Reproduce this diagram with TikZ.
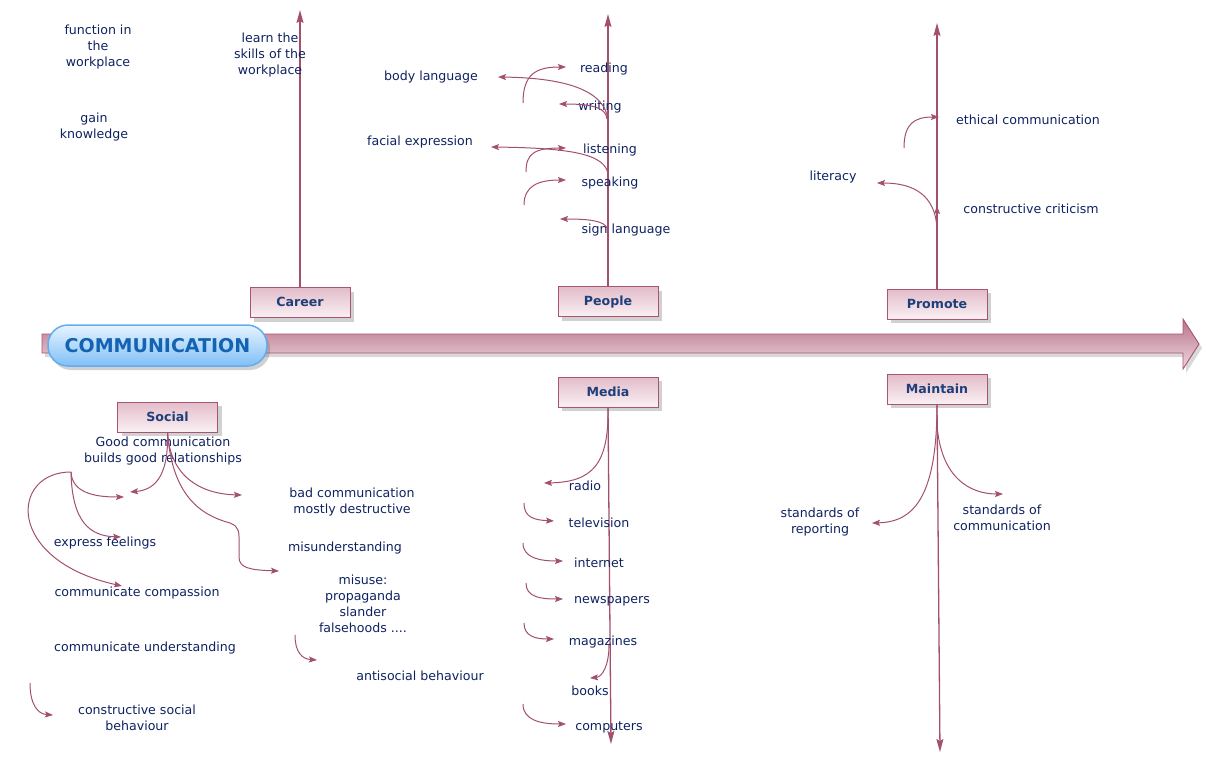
\documentclass[tikz,border=0pt]{standalone}
\usepackage{fontspec}
\setmainfont{DejaVu Sans}
\usetikzlibrary{arrows.meta,shadows}
\definecolor{linec}{HTML}{A3506E}
\definecolor{txtc}{HTML}{0E2260}
\definecolor{boxtxt}{HTML}{1F3F7A}
\definecolor{boxbd}{HTML}{A85472}
\definecolor{boxtop}{HTML}{E2BCC9}
\definecolor{boxmid}{HTML}{D5A3B4}
\definecolor{boxbot}{HTML}{FAF0F4}
\definecolor{pilltop}{HTML}{E6F4FF}
\definecolor{pillbot}{HTML}{80BFF7}
\definecolor{pillbd}{HTML}{62ACEF}
\definecolor{pilltxt}{HTML}{1462B2}
\definecolor{arrtop}{HTML}{B87389}
\definecolor{arrmid}{HTML}{CC93A6}
\definecolor{arrbot}{HTML}{F0D8E0}
\tikzset{
  conn/.style={draw=linec, line width=1pt, -{Stealth[length=8pt,width=6pt,inset=1.5pt]}},
  mainline/.style={draw=linec, line width=1.3pt, -{Stealth[length=13pt,width=7pt,inset=2pt]}},
  lbl/.style={text=txtc, font=\fontsize{12.6}{16}\selectfont, align=center, inner sep=0pt, yshift=-2pt},
  catbox/.style={draw=boxbd, line width=0.9pt, minimum width=100pt, minimum height=30pt,
    top color=boxtop, middle color=boxmid, bottom color=boxbot, text=boxtxt,
    font=\bfseries\fontsize{12.6}{15}\selectfont, inner sep=0pt, text height=8pt, text depth=0pt,
    drop shadow={opacity=0.3, shadow xshift=4pt, shadow yshift=-4pt, fill=black!60}},
  pill/.style={draw=pillbd, line width=1.5pt, rounded corners=20pt, minimum width=219pt, minimum height=41pt,
    top color=pilltop, bottom color=pillbot, text=pilltxt, inner sep=0pt,
    font=\bfseries\fontsize{19}{22}\selectfont,
    drop shadow={opacity=0.3, shadow xshift=3pt, shadow yshift=-4pt, fill=black!60}}
}
\begin{document}
\begin{tikzpicture}[x=1pt,y=-1pt]
\useasboundingbox (0,0) rectangle (1211,771);
% main arrow
\path[draw=boxbd, line width=0.9pt, top color=arrtop, middle color=arrmid, bottom color=arrbot,
  drop shadow={opacity=0.25, shadow xshift=3pt, shadow yshift=-4pt, fill=black!60}]
  (42,334) -- (1183,334) -- (1183,319) -- (1199,344) -- (1183,369) -- (1183,353) -- (42,353) -- cycle;

% category boxes
\node[catbox] (career) at (300,302.5) {Career};
\node[catbox] (people) at (608,301.5) {People};
\node[catbox] (promote) at (937,304) {Promote};
\node[catbox] (social) at (167.5,417) {Social};
\node[catbox] (media) at (608,392) {Media};
\node[catbox] (maintain) at (937,389) {Maintain};
\node[pill] (comm) at (157.5,345.5) {COMMUNICATION};

% main branch lines
\coordinate (careerTop) at (300,10);
\coordinate (peopleTop) at (608,14);
\coordinate (promoteTop) at (937,23);
\coordinate (mediaEnd) at (611,744);
\coordinate (maintainEnd) at (940,752);
\draw[mainline] (career.north) -- (careerTop);
\draw[mainline] (people.north) -- (peopleTop);
\draw[mainline] (promote.north) -- (promoteTop);
\draw[mainline] (media.south) -- (mediaEnd);
\draw[mainline] (maintain.south) -- (maintainEnd);

% texts top-left
\node[lbl] (func) at (98,45) {function in\\the\\workplace};
\node[lbl] (gain) at (94,125) {gain\\knowledge};
\node[lbl] (learn) at (270,53) {learn the\\skills of the\\workplace};

% People texts
\node[lbl] (body) at (431,75) {body language};
\node[lbl] (reading) at (604,67) {reading};
\node[lbl] (writing) at (600,105) {writing};
\node[lbl] (facial) at (420,140) {facial expression};
\node[lbl] (listening) at (610,148) {listening};
\node[lbl] (speaking) at (610,181) {speaking};
\node[lbl] (sign) at (626,228) {sign language};

% People connectors
\coordinate (pA) at (523,103); \coordinate (pAe) at (566,67);
\draw[conn] (pA) .. controls (523,74) and (536,67) .. (pAe);
\coordinate (pB) at (608,120); \coordinate (pBe) at (498,77);
\draw[conn] (pB) .. controls (605,92) and (570,78) .. (pBe);
\coordinate (pC) at (607,119); \coordinate (pCe) at (559,104);
\draw[conn] (pC) .. controls (606,109) and (596,104) .. (pCe);
\coordinate (pD) at (526,172); \coordinate (pDe) at (566,148);
\draw[conn] (pD) .. controls (526,154) and (534,148) .. (pDe);
\coordinate (pE) at (608,174); \coordinate (pEe) at (491,147);
\draw[conn] (pE) .. controls (605,155) and (575,148) .. (pEe);
\coordinate (pF) at (524,205); \coordinate (pFe) at (566,180);
\draw[conn] (pF) .. controls (524,186) and (538,180) .. (pFe);
\coordinate (pG) at (607,228); \coordinate (pGe) at (560,219);
\draw[conn] (pG) .. controls (604,221) and (590,219) .. (pGe);

% Promote texts & connectors
\node[lbl] (ethical) at (1028,118) {ethical communication};
\node[lbl] (literacy) at (833,175) {literacy};
\node[lbl] (critic) at (1031,207) {constructive criticism};
\coordinate (rA) at (904,148); \coordinate (rAe) at (939,117);
\draw[conn] (rA) .. controls (904,124) and (914,117) .. (rAe);
\coordinate (rB) at (937,228); \coordinate (rBe) at (877,183);
\draw[conn] (rB) .. controls (935,196) and (915,183) .. (rBe);
\coordinate (rCe) at (937,206);
\draw[conn] (promote.north) -- (rCe);

% Media texts & connectors
\node[lbl] (radio) at (585,484) {radio};
\node[lbl] (tv) at (599,521) {television};
\node[lbl] (internet) at (599,561) {internet};
\node[lbl] (news) at (612,599) {newspapers};
\node[lbl] (mags) at (603,640) {magazines};
\node[lbl] (books) at (590,689) {books};
\node[lbl] (comp) at (609,725) {computers};
\coordinate (mAe) at (544,483);
\draw[conn] (media.south) .. controls (609,465) and (592,482) .. (mAe);
\coordinate (mB) at (524,503); \coordinate (mBe) at (554,521);
\draw[conn] (mB) .. controls (524,518) and (535,520) .. (mBe);
\coordinate (mC) at (523,543); \coordinate (mCe) at (563,561);
\draw[conn] (mC) .. controls (523,558) and (540,561) .. (mCe);
\coordinate (mD) at (526,583); \coordinate (mDe) at (563,599);
\draw[conn] (mD) .. controls (526,597) and (540,599) .. (mDe);
\coordinate (mE) at (524,623); \coordinate (mEe) at (554,639);
\draw[conn] (mE) .. controls (524,636) and (535,639) .. (mEe);
\coordinate (mF) at (609,645); \coordinate (mFe) at (590,678);
\draw[conn] (mF) .. controls (609,666) and (602,677) .. (mFe);
\coordinate (mG) at (523,704); \coordinate (mGe) at (566,724);
\draw[conn] (mG) .. controls (523,720) and (540,724) .. (mGe);

% Maintain texts & connectors
\node[lbl] (stdrep) at (820,520) {standards of\\reporting};
\node[lbl] (stdcom) at (1002,516) {standards of\\communication};
\coordinate (nAe) at (872,523);
\draw[conn] (maintain.south) .. controls (937,500) and (912,522) .. (nAe);
\coordinate (nB) at (937,425); \coordinate (nBe) at (1003,494);
\draw[conn] (nB) .. controls (941,478) and (970,494) .. (nBe);

% Social texts
\node[lbl] (good) at (163,449) {Good communication\\builds good relationships};
\node[lbl] (bad) at (352,500) {bad communication\\mostly destructive};
\node[lbl] (express) at (105,541) {express feelings};
\node[lbl] (misund) at (345,546) {misunderstanding};
\node[lbl] (compass) at (137,591) {communicate compassion};
\node[lbl] (misuse) at (363,602) {misuse:\\propaganda\\slander\\falsehoods ....};
\node[lbl] (underst) at (145,646) {communicate understanding};
\node[lbl] (antisoc) at (420,674) {antisocial behaviour};
\node[lbl] (constr) at (137,716) {constructive social\\behaviour};

% Social connectors
\coordinate (sAe) at (130,492);
\draw[conn] (social.south) .. controls (169,480) and (152,490) .. (sAe);
\coordinate (sBe) at (242,495);
\draw[conn] (social.south) .. controls (170,476) and (200,494) .. (sBe);
\coordinate (sCe) at (279,571);
\draw[conn] (social.south) .. controls (172,495) and (200,515) .. (230,523)
  .. controls (240,527) and (239,532) .. (239,545) -- (239,557)
  .. controls (239,568) and (250,570) .. (sCe);
\coordinate (lS) at (71,472);
\coordinate (lAe) at (124,497);
\draw[conn] (lS) .. controls (72,495) and (100,497) .. (lAe);
\coordinate (lBe) at (121,537);
\draw[conn] (lS) .. controls (72,522) and (90,536) .. (lBe);
\coordinate (lCe) at (122,586);
\draw[conn] (lS) .. controls (10,472) and (5,560) .. (lCe);
\coordinate (lD) at (30,683); \coordinate (lDe) at (53,715);
\draw[conn] (lD) .. controls (30,705) and (38,714) .. (lDe);
\coordinate (lE) at (295,635); \coordinate (lEe) at (317,660);
\draw[conn] (lE) .. controls (295,652) and (302,659) .. (lEe);
\end{tikzpicture}
\end{document}
